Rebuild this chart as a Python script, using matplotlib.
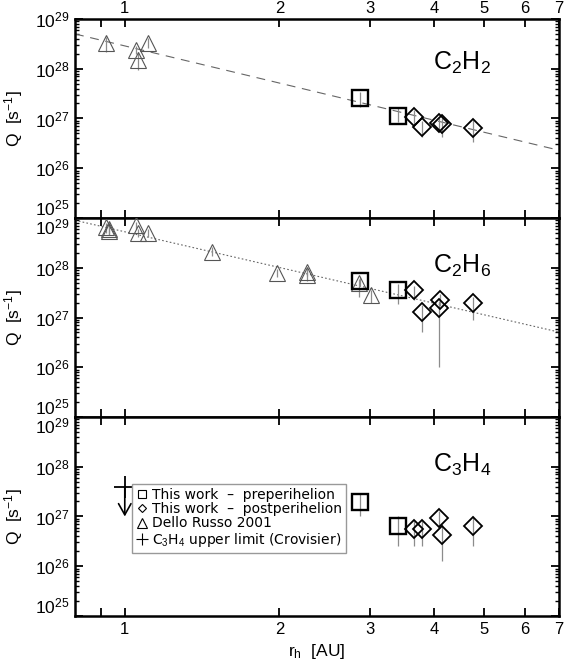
import matplotlib
matplotlib.use("Agg")
import matplotlib.pyplot as plt
from matplotlib.ticker import FixedLocator, LogLocator, NullFormatter
from matplotlib.lines import Line2D

# Datos
# -----------------------------------------------------------------------------
# C2H2 (panel superior)
c2h2_dr_r = [0.92, 1.05, 1.06, 1.11]
c2h2_dr_q = [3.3e28, 2.4e28, 1.5e28, 3.3e28]
c2h2_dr_lo = [2.2e28, 2.0e28, 9.5e27, 2.6e28]
c2h2_dr_hi = [4.4e28, 2.9e28, 2.2e28, 4.2e28]

c2h2_pre_r = [2.87, 3.40]
c2h2_pre_q = [2.6e27, 1.1e27]
c2h2_pre_lo = [1.7e27, 8.5e26]
c2h2_pre_hi = [3.4e27, 1.6e27]

c2h2_post_r = [3.66, 3.79, 4.09, 4.15, 4.76]
c2h2_post_q = [1.07e27, 6.8e26, 8.1e26, 7.8e26, 6.5e26]
c2h2_post_lo = [7.8e26, 4.3e26, 6.0e26, 4.3e26, 3.4e26]
c2h2_post_hi = [1.5e27, 9.0e26, 1.0e27, 1.0e27, 9.3e26]

c2h2_fit_r = [0.8, 7.0]
c2h2_fit_q = [5.0e28, 2.3e26]

# C2H6 (panel central)
c2h6_dr_r = [0.92, 0.93, 0.93, 1.05, 1.06, 1.11, 1.48, 1.98, 2.26, 2.26, 2.86, 3.01]
c2h6_dr_q = [6.5e28, 6.0e28, 5.5e28, 7.2e28, 5.0e28, 5.0e28, 2.1e28, 8.0e27, 7.2e27, 8.3e27, 5.0e27, 2.8e27]
c2h6_dr_lo = [5.0e28, 4.8e28, 4.5e28, 6.0e28, 4.2e28, 4.2e28, 1.7e28, 6.5e27, 5.5e27, 6.8e27, 2.6e27, 2.0e27]
c2h6_dr_hi = [8.0e28, 7.5e28, 6.8e28, 8.5e28, 6.0e28, 6.0e28, 2.6e28, 9.5e27, 8.8e27, 9.8e27, 6.0e27, 3.5e27]

c2h6_pre_r = [2.87, 3.40]
c2h6_pre_q = [5.3e27, 3.6e27]
c2h6_pre_lo = [4.2e27, 1.9e27]
c2h6_pre_hi = [6.5e27, 4.8e27]

c2h6_post_r = [3.66, 3.79, 4.11, 4.09, 4.76]
c2h6_post_q = [3.5e27, 1.3e27, 2.3e27, 1.55e27, 1.95e27]
c2h6_post_lo = [2.3e27, 5.1e26, 1.7e27, 1.0e26, 9.0e26]
c2h6_post_hi = [4.3e27, 1.8e27, 3.0e27, 2.1e27, 2.6e27]

c2h6_fit_r = [0.8, 7.0]
c2h6_fit_q = [9.0e28, 5.1e26]

# C3H4 (panel inferior)
c3h4_pre_r = [2.87, 3.40]
c3h4_pre_q = [1.95e27, 6.3e26]
c3h4_pre_lo = [1.0e27, 2.5e26]
c3h4_pre_hi = [2.9e27, 1.0e27]

c3h4_post_r = [3.66, 3.79, 4.09, 4.15, 4.76]
c3h4_post_q = [5.5e26, 5.6e26, 9.5e26, 4.2e26, 6.3e26]
c3h4_post_lo = [2.6e26, 2.6e26, 6.0e26, 1.3e26, 2.6e26]
c3h4_post_hi = [8.0e26, 8.0e26, 1.3e27, 7.0e26, 1.0e27]

# limite superior de Crovisier
c3h4_ul_r = [1.0]
c3h4_ul_q = [3.9e27]
c3h4_ul_tip = [1.0e27]

x_ticks = [0.9, 1, 2, 3, 4, 5, 6, 7]
x_tick_labels = ["", "1", "2", "3", "4", "5", "6", "7"]
y_ticks = [1e25, 1e26, 1e27, 1e28, 1e29]
y_tick_labels = ["10$^{25}$", "10$^{26}$", "10$^{27}$", "10$^{28}$", "10$^{29}$"]

# Estilo
# -----------------------------------------------------------------------------
plt.rcParams["font.family"] = ["Liberation Sans", "DejaVu Sans"]
plt.rcParams["mathtext.fontset"] = "custom"
plt.rcParams["mathtext.rm"] = "Liberation Sans"
plt.rcParams["mathtext.it"] = "Liberation Sans:italic"
plt.rcParams["mathtext.bf"] = "Liberation Sans:bold"

GRIS = "#8c8c8c"
GRIS_TRI = "#555555"


def errores(ax, r, lo, hi):
    """barras de error verticales en gris"""
    ax.vlines(r, lo, hi, colors=GRIS, linewidth=0.9, zorder=2)


def preparar_eje(ax, arriba=False, abajo=False, primero=False):
    ax.set_xscale("log")
    ax.set_yscale("log")
    ax.set_xlim(0.8, 7.0)
    ax.set_ylim(1e25, 1e29)
    ax.xaxis.set_major_locator(FixedLocator(x_ticks))
    ax.xaxis.set_minor_locator(FixedLocator([]))
    ax.set_xticklabels(x_tick_labels)
    ax.set_yticks(y_ticks, labels=y_tick_labels)
    ax.yaxis.set_minor_locator(LogLocator(base=10, subs=range(2, 10), numticks=20))
    ax.yaxis.set_minor_formatter(NullFormatter())
    ax.tick_params(axis="both", which="major", direction="in", length=6, width=1.3,
                   top=True, right=True, labelsize=12.5)
    ax.tick_params(axis="both", which="minor", direction="in", length=3, width=1.0,
                   top=True, right=True)
    ax.tick_params(axis="x", labeltop=arriba, labelbottom=abajo, pad=4, labelsize=12)
    ax.tick_params(axis="y", pad=4)
    for s in ax.spines.values():
        s.set_linewidth(1.8)
    ax.set_ylabel("Q  [s$^{-1}$]", fontsize=12.5, labelpad=7)
    # las etiquetas de los extremos se separan como en el original
    marcas = ax.yaxis.get_major_ticks()
    marcas[0].label1.set_verticalalignment("bottom")
    if not primero:
        marcas[-1].label1.set_verticalalignment("top")


fig = plt.figure(figsize=(5.66, 6.63), dpi=100)
izq, ancho, alto = 0.1325, 0.855, 0.3002
ax1 = fig.add_axes([izq, 0.6712, ancho, alto])
ax2 = fig.add_axes([izq, 0.3710, ancho, alto])
ax3 = fig.add_axes([izq, 0.0709, ancho, alto])

preparar_eje(ax1, arriba=True, primero=True)
preparar_eje(ax2)
preparar_eje(ax3, abajo=True)
ax1.tick_params(axis="x", pad=2)

est_pre = dict(ls="none", marker="s", ms=11, mfc="none", mec="k", mew=1.7, zorder=4)
est_post = dict(ls="none", marker="D", ms=9.3, mfc="none", mec="k", mew=1.3, zorder=4)
est_dr = dict(ls="none", marker="^", ms=11, mfc="none", mec=GRIS_TRI, mew=0.8, zorder=3)

# panel C2H2
ax1.plot(c2h2_fit_r, c2h2_fit_q, color="#666666", lw=0.8, dashes=(8, 6))
errores(ax1, c2h2_dr_r, c2h2_dr_lo, c2h2_dr_hi)
errores(ax1, c2h2_pre_r, c2h2_pre_lo, c2h2_pre_hi)
errores(ax1, c2h2_post_r, c2h2_post_lo, c2h2_post_hi)
ax1.plot(c2h2_dr_r, c2h2_dr_q, **est_dr)
ax1.plot(c2h2_pre_r, c2h2_pre_q, **est_pre)
ax1.plot(c2h2_post_r, c2h2_post_q, **est_post)
ax1.text(0.80, 0.78, "C$_2$H$_2$", transform=ax1.transAxes, fontsize=18,
         ha="center", va="center")

# panel C2H6
ax2.plot(c2h6_fit_r, c2h6_fit_q, color="#666666", lw=0.8, dashes=(1.5, 2))
errores(ax2, c2h6_dr_r, c2h6_dr_lo, c2h6_dr_hi)
errores(ax2, c2h6_pre_r, c2h6_pre_lo, c2h6_pre_hi)
errores(ax2, c2h6_post_r, c2h6_post_lo, c2h6_post_hi)
ax2.plot(c2h6_dr_r, c2h6_dr_q, **est_dr)
ax2.plot(c2h6_pre_r, c2h6_pre_q, **est_pre)
ax2.plot(c2h6_post_r, c2h6_post_q, **est_post)
ax2.text(0.80, 0.76, "C$_2$H$_6$", transform=ax2.transAxes, fontsize=18,
         ha="center", va="center")

# panel C3H4
errores(ax3, c3h4_pre_r, c3h4_pre_lo, c3h4_pre_hi)
errores(ax3, c3h4_post_r, c3h4_post_lo, c3h4_post_hi)
ax3.plot(c3h4_pre_r, c3h4_pre_q, **est_pre)
ax3.plot(c3h4_post_r, c3h4_post_q, **est_post)
ax3.plot(c3h4_ul_r, c3h4_ul_q, ls="none", marker="+", ms=16, mec="k", mew=1.3, zorder=4)
for r, q, tip in zip(c3h4_ul_r, c3h4_ul_q, c3h4_ul_tip):
    ax3.annotate("", xy=(r, tip), xytext=(r, q),
                 arrowprops=dict(arrowstyle="->,head_length=0.8,head_width=0.45",
                                 color="k", lw=1.2, shrinkA=0, shrinkB=0))
ax3.text(0.80, 0.76, "C$_3$H$_4$", transform=ax3.transAxes, fontsize=18,
         ha="center", va="center")
ax3.set_xlabel("r$_\\mathrm{h}$  [AU]", fontsize=12.5, labelpad=4)

manijas = [
    Line2D([], [], ls="none", marker="s", ms=6, mfc="none", mec="k", mew=0.8),
    Line2D([], [], ls="none", marker="D", ms=4.5, mfc="none", mec="k", mew=0.8),
    Line2D([], [], ls="none", marker="^", ms=7, mfc="none", mec="k", mew=0.8),
    Line2D([], [], ls="none", marker="+", ms=8, mec="k", mew=0.8),
]
etiquetas = [
    "This work  \u2013  preperihelion",
    "This work  \u2013  postperihelion",
    "Dello Russo 2001",
    "C$_3$H$_4$ upper limit (Crovisier)",
]
leg = ax3.legend(manijas, etiquetas, loc="lower left", bbox_to_anchor=(0.118, 0.317),
                 borderaxespad=0, labelspacing=0.02, handlelength=0.8,
                 handletextpad=0.3, borderpad=0.3, fancybox=False, framealpha=1,
                 prop={"family": ["DejaVu Sans"], "size": 10})
leg.get_frame().set_edgecolor("#999999")
leg.get_frame().set_linewidth(1.0)

fig.savefig("out.png", dpi=100)
